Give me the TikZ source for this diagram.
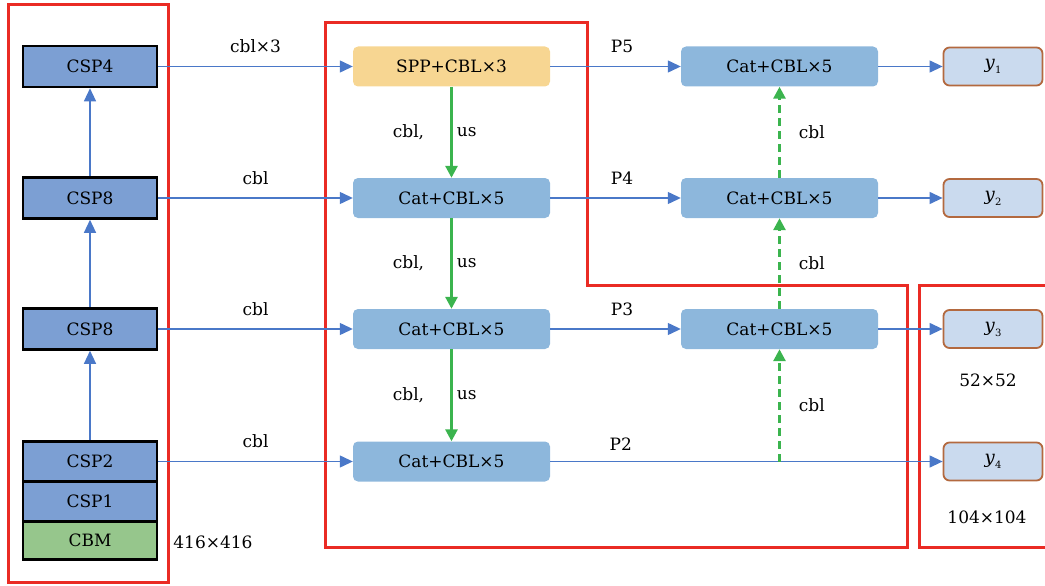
\documentclass[tikz,border=0pt]{standalone}
\usepackage{fontspec}
\setmainfont{DejaVu Serif}
\usetikzlibrary{arrows.meta}
\definecolor{framered}{HTML}{EA2B24}
\definecolor{linkblue}{HTML}{4A78C8}
\definecolor{upgreen}{HTML}{3BB44E}
\definecolor{cspfill}{HTML}{7C9FD3}
\definecolor{cbmfill}{HTML}{96C68C}
\definecolor{sppfill}{HTML}{F7D692}
\definecolor{catfill}{HTML}{8DB7DC}
\definecolor{outfill}{HTML}{CADAEE}
\definecolor{outedge}{HTML}{B3693F}
% output name: italic y with a small index
\newcommand{\yout}[1]{{\fontsize{18}{20}\selectfont\textit{y}}\raisebox{-5pt}{\fontsize{10}{10}\selectfont #1}}
\begin{document}
\begin{tikzpicture}[x=1pt,y=-1pt,
  every node/.style={font=\fontsize{17}{20}\selectfont, inner sep=0pt},
  cspbox/.style={draw=black, line width=2.6pt, fill=cspfill, minimum width=134pt, minimum height=41pt},
  stackbox/.style={cspbox, minimum height=40pt},
  catbox/.style={fill=catfill, rounded corners=5pt, minimum width=197pt, minimum height=40pt},
  sppbox/.style={catbox, fill=sppfill},
  outbox/.style={draw=outedge, line width=1.8pt, fill=outfill, rounded corners=6pt, minimum width=99pt, minimum height=38pt},
  link/.style={draw=linkblue, line width=1.3pt, -{Triangle[length=13pt,width=12pt]}},
  up/.style={draw=upgreen, line width=2.8pt, -{Triangle[length=12pt,width=12pt]}},
  upd/.style={up, dash pattern=on 8pt off 5pt},
  frame/.style={draw=framered, line width=3pt}
]
\useasboundingbox (0,0) rectangle (1045,586);

% group frames
\draw[frame] (8,5) rectangle (168,582);
\draw[frame] (325,23) -- (587,23) -- (587,285) -- (907,285) -- (907,547) -- (325,547) -- cycle;
\draw[frame] (919,285) rectangle (1060,547);

% backbone
\node[cspbox] (csp4) at (90,66.5) {CSP4};
\node[cspbox] (csp8a) at (90,198) {CSP8};
\node[cspbox] (csp8b) at (90,329) {CSP8};
\node[stackbox] (csp2) at (90,461.5) {CSP2};
\node[stackbox] (csp1) at (90,501.5) {CSP1};
\node[stackbox, fill=cbmfill, minimum height=38pt] (cbm) at (90,540.5) {CBM};
\node (insize) at (213,542) {416×416};

\draw[link] (csp8a.north) -- (csp4.south);
\draw[link] (csp8b.north) -- (csp8a.south);
\draw[link] (csp2.north) -- (csp8b.south);

% neck, top-down path
\node[sppbox] (spp) at (451.5,66.5) {SPP+CBL×3};
\node[catbox] (cat1) at (451.5,198) {Cat+CBL×5};
\node[catbox] (cat2) at (451.5,329) {Cat+CBL×5};
\node[catbox] (cat3) at (451.5,461.5) {Cat+CBL×5};

\draw[link] (csp4.east) -- (spp.west) node[midway, above=13pt] {cbl×3};
\draw[link] (csp8a.east) -- (cat1.west) node[midway, above=13pt] {cbl};
\draw[link] (csp8b.east) -- (cat2.west) node[midway, above=13pt] {cbl};
\draw[link] (csp2.east) -- (cat3.west) node[midway, above=13pt] {cbl};

\draw[up] (spp.south) -- (cat1.north)
  node[midway, left=26pt] {cbl,} node[midway, right=4pt] {us};
\draw[up] (cat1.south) -- (cat2.north)
  node[midway, left=26pt] {cbl,} node[midway, right=4pt] {us};
\draw[up] (cat2.south) -- (cat3.north)
  node[midway, left=26pt] {cbl,} node[midway, right=4pt] {us};

% neck, bottom-up path
\node[catbox] (pan1) at (779.5,66.5) {Cat+CBL×5};
\node[catbox] (pan2) at (779.5,198) {Cat+CBL×5};
\node[catbox] (pan3) at (779.5,329) {Cat+CBL×5};

\draw[link] (spp.east) -- (pan1.west) node[pos=0.55, above=13pt] {P5};
\draw[link] (cat1.east) -- (pan2.west) node[pos=0.55, above=13pt] {P4};
\draw[link] (cat2.east) -- (pan3.west) node[pos=0.55, above=13pt] {P3};

% heads
\node[outbox] (y1) at (993,66.5) {\yout{1}};
\node[outbox] (y2) at (993,198) {\yout{2}};
\node[outbox] (y3) at (993,329) {\yout{3}};
\node[outbox] (y4) at (993,461.5) {\yout{4}};
\node (s3) at (988,380) {52×52};
\node (s4) at (987,517) {104×104};

\draw[link] (cat3.east) -- (y4.west) node[pos=0.18, above=10pt] {P2};
\coordinate (tap) at (pan3.south |- cat3.east);

\draw[upd] (tap) -- (pan3.south) node[midway, right=18pt] {cbl};
\draw[upd] (pan3.north) -- (pan2.south) node[midway, right=18pt] {cbl};
\draw[upd] (pan2.north) -- (pan1.south) node[midway, right=18pt] {cbl};

\draw[link] (pan1.east) -- (y1.west);
\draw[link] (pan2.east) -- (y2.west);
\draw[link] (pan3.east) -- (y3.west);
\end{tikzpicture}
\end{document}
